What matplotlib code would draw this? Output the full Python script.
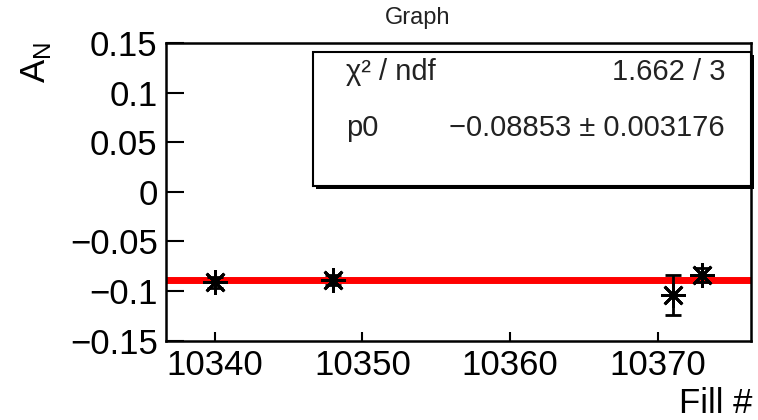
import numpy as np
import matplotlib.pyplot as plt
from matplotlib.patches import Rectangle

plt.rcParams['font.family'] = ['Liberation Sans', 'DejaVu Sans']

# data
fills = [10340, 10348, 10371, 10373]
an_vals = [-0.0915, -0.0894, -0.104, -0.0843]
an_errs = [0.006, 0.005, 0.020, 0.007]

# fit result (constant p0)
p0 = -0.08853
p0_err = 0.003176
chi2 = 1.662
ndf = 3

xticks = [10340, 10350, 10360, 10370]
yticks = [-0.15, -0.1, -0.05, 0, 0.05, 0.1, 0.15]
ytick_labels = ['\u22120.15', '\u22120.1', '\u22120.05', '0', '0.05', '0.1', '0.15']

W, H = 758, 420
fig = plt.figure(figsize=(W / 100, H / 100), dpi=100)


def fx(px):
    return px / W


def fy(py):
    return 1 - py / H


ax = fig.add_axes([fx(166), fy(340.5), fx(751) - fx(166), fy(43) - fy(340.5)])

ax.axhline(p0, color='#ff0000', lw=5, zorder=2)
ax.errorbar(fills, an_vals, yerr=an_errs, fmt='none', ecolor='black',
            elinewidth=2, capsize=6, capthick=2, zorder=3)
ax.plot(fills, an_vals, ls='none', marker=(8, 2, 0), markersize=18,
        mec='black', mew=2.0, color='black', zorder=4)

ax.set_xlim(10336.7, 10376.3)
ax.set_ylim(-0.15, 0.15)
ax.set_xticks(xticks)
ax.set_xticklabels([str(t) for t in xticks])
ax.set_yticks(yticks)
ax.set_yticklabels(ytick_labels)

ax.tick_params(axis='x', direction='in', length=6.5, width=1.5, labelsize=25, pad=6)
ax.tick_params(axis='y', direction='in', length=13, width=1.5, labelsize=25, pad=6)
for s in ax.spines.values():
    s.set_linewidth(1.8)

# axis titles, ROOT style
fig.text(fx(752), fy(413), 'Fill #', fontsize=25, ha='right', va='baseline')
fig.text(fx(36), fy(42), r'A$_\mathregular{N}$', fontsize=25, rotation=90,
         ha='center', va='top')
fig.text(fx(418), fy(18), 'Graph', fontsize=17, ha='center', va='center',
         color='#222222')

# stats box with shadow
bx0, by0, bx1, by1 = 313, 52, 751, 186
fig.patches.append(Rectangle((fx(bx0 + 3), fy(by1 + 3)), fx(bx1 - bx0), fy(by0) - fy(by1),
                             transform=fig.transFigure, facecolor='black',
                             edgecolor='black', lw=0, zorder=5))
fig.patches.append(Rectangle((fx(bx0), fy(by1)), fx(bx1 - bx0), fy(by0) - fy(by1),
                             transform=fig.transFigure, facecolor='white',
                             edgecolor='black', lw=1.5, zorder=6))
fig.text(fx(346), fy(72), '\u03c7\u00b2 / ndf', fontsize=21, ha='left', va='center',
         color='#222222', zorder=7)
fig.text(fx(725), fy(72), f'{chi2} / {ndf}', fontsize=21, ha='right', va='center',
         color='#222222', zorder=7)
fig.text(fx(346), fy(128), 'p0', fontsize=21, ha='left', va='center',
         color='#222222', zorder=7)
fig.text(fx(725), fy(128), f'\u2212{abs(p0)} \u00b1 {p0_err}', fontsize=21,
         ha='right', va='center', color='#222222', zorder=7)

fig.savefig('out.png', dpi=100)
